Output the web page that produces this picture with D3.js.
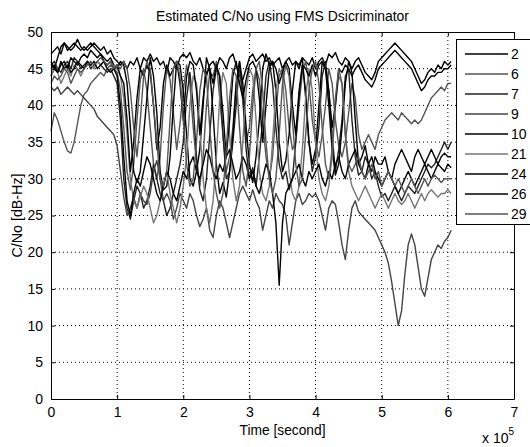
<!DOCTYPE html>
<html>
<head>
<meta charset="utf-8">
<script src="https://cdn.jsdelivr.net/npm/d3@7"></script>
<style>
  body { margin: 0; background: #fff; }
  svg { display: block; }
  text { font-family: "Liberation Sans", Arial, sans-serif; fill: #000; }
</style>
</head>
<body>
<svg id="chart" width="530" height="447"></svg>
<script>
// Estimated C/No per satellite (PRN), sampled every 0.05 x 10^5 s from 0 to 6.05 x 10^5 s
const prns = ["2", "6", "7", "9", "10", "21", "24", "26", "29"];
const sampleStep = 0.05;

const cn0_prn2 = [
  44,45,46.5,48,48.5,47.5,48,48.5,48,47.5,48,47.5,48,48.5,48,47.5,48,47,47.5,46.5,
  46,45.5,46,45,46,45.5,46.5,45,46.5,46,47,46,46.5,45.5,46,44.5,46.5,46,45,46.5,
  47,46.5,47.2,46,45.5,46.5,45,44,45.5,46,45,46.5,46,45,46.5,47,45.5,44,43.5,45,
  46.5,47,46,46.5,47,46,46.5,45.5,46,46.5,45,46,46.5,45.5,46,45,46.5,46,45.5,46.5,
  45,46,46.5,45.5,47,46.5,47.2,46,45.5,46.5,46,45,46,46.5,45.5,44.5,44,43.5,44.5,46,
  46.5,47,47.5,48,48.5,48,47.5,47,46.5,46,45,44,43,43.5,44.5,45,44.5,45.5,45,46,
  45.5,46
];
const cn0_prn6 = [
  36.5,39,38,36.5,35,33.8,33.5,35,37.5,40,41.5,42,43,43.5,44,44.5,44,45,45.5,45,
  44.5,42,37,31,28.5,32,38,43.5,45,42,37,32,30,33,40,45,43.5,39,34,37.5,
  42,45.5,43,37,32,29,33,40,44.5,44,46,41,36,31,33,37,43,45,41,35,
  37,42,45,43.5,38,33,30,33,39,44,45,42,37,34,35,40,44.5,46,43,38,
  35,33,36,40,45,43,38,34.5,33,35,39,43,41,36,34,35,36,35,34,36,
  37,38,38.5,39,38.5,38,39,38.5,38,37.5,38,37.5,38,39,40,41,41.5,42,42.5,42,
  43,43
];
const cn0_prn7 = [
  45.5,46,45,44.5,45.5,46,45,46.5,46,45,45.5,46,45,45.5,46,45.5,45,44.5,45,44,
  43,38,30,26,24.5,27,29,28,26,27,29,32,30,28,27,25,26,28,30,32,
  35,41,44.5,40,33,28.5,27,30,36,42,45,44,36,30,31,35,40,46,41,34,
  30,31.5,29,33,38,44,46,43,37,32,30,31,28.5,30,35,41,45.5,42,35,31,
  33,37,44,46,42,36,31,34,38,44,45,38,33,30.5,31,33,32,30,31,29,
  27.5,28,27,28,29,28,27,28,29,28.5,28,29,30,31,32,31.5,32,33,34,35,
  34,35
];
const cn0_prn9 = [
  42.5,42,42.5,41.5,42,42.5,42,41.5,42,41.5,41,40.5,40,39.5,38.5,38,37.5,37,36.5,36,
  34.5,31,27.5,25,26,27.5,26,28,27,26.5,28,31,32.5,30,27,28,27,24.5,26,28,
  27,26,28,27,25,23.5,24.5,26,23,22,25,27,26,24,22,24,26,28,29,28,
  27,28.5,27,26,23,25,27,26,28,27,26.5,25,21,24,27,28,26.5,27,28,27.5,
  28,27,25,23,26,27,26.5,24,21,19,23,26,27,25.5,25,24.5,24,23.5,23,22,
  21,20,18.5,16,13,10,12,17,21,22.5,21,18,15,14,16.5,19,20,21,20.5,21.5,
  22,23
];
const cn0_prn10 = [
  47,47.5,48,47,48.5,48,47.5,48,49,48,47.5,48,48.5,48,47.5,47,46.5,46,46.5,45.5,
  45,46,45.5,43,37,31,29.5,31,36,41,46.5,44,39,31,28.5,29,33,40,46,45.5,
  42,36,30,29,31,34,40,46.5,45,39,32,28,29.5,27.5,31,36,43,46,43,37,
  32,29.5,33,38,45,47,45.5,46,42,35,31,32.5,36,42,46,45.5,46.5,41,35,32,
  34,40,46,45,40,34,30.5,32,37,43,46,44.5,38,32,33,34.5,32,31,33,32,
  32,33,31,30,32,33,34,33,32,31,33,34,33,32,33,34,33,32,33,33.5,
  33,33
];
const cn0_prn21 = [
  44,45,44.5,43,44,45,44,45.5,45,44,45,46,45.5,45,46,45.5,46,45,44.5,45.5,
  45,44,41,36,30,27,26,27.5,29,28,26,24,25,27,29,31,28,26,24,26,
  29,33,40,44,43,37,30,26,24,27,33,41,44.5,43,36,30,27,29,35,42,
  45,44,38,31,28,27,29,35,42,45,44,37,31,28,27,29,34,41,45,42,
  35,30,28,27,29,33,40,44,43,36,31,29,28,27,28,29,28,27,26,27,
  28,27,26,27,28,27,26.5,27,28,27,26,27,28,27,28,28.5,28,27.5,28,28,
  28.5,28
];
const cn0_prn24 = [
  46,45,44.5,46,45,45.5,44.5,45,46,45.5,45,46,45.5,46,45,45.5,46,45,44.5,45,
  44,40,33,27,25,28,30,29,31,33,32,30,28,27,29,31,30,28,27,29,
  31,30,32,33,31,30,32,34,33,31,30,32,31,33,34,32,30,31,33,32,
  30,31,29,28,30,32,31,28,24,15.5,24,28,29,30,31,32,30,29,31,30,
  31,32,30,29,31,30,32,33,31,30,32,33,34,32,31,30,32,33,31,30,
  29,30,31,30,29,28,29,30,31,30,29,30,31,32,31,30,31,32,31.5,31,
  32,31.5
];
const cn0_prn26 = [
  45,45.5,44.5,45.5,46,45,46.5,46,45.5,46.5,47,46.5,47.5,47,46.5,47,46,45.5,46,45,
  45.5,44,43,38,31,35,41,45,44,45.5,44.5,40,34,37,43,45.5,44,45,46,43,
  38,44,46,45.5,42,36,41,44.5,45,43,45.5,44,39,33,38,44,46,43,41,43.5,
  45.5,46,45,41,35,40,45,46,45,43,44.5,46,45,40,36,42,45.5,45,44,45.5,
  44,45.5,46,45,42,37,40,45,44.5,45.5,45,44,45,45.5,44.5,43.5,43,42.5,43.5,45,
  45.5,46,46.5,47,47.5,47,46.5,46,45.5,45,44,43,42,42.5,43.5,44,44,44.5,44.5,45,
  45,45.5
];
const cn0_prn29 = [
  43,44,43.5,44,45,44.5,43,44,45,44.5,45,45.5,46,45.5,46,46.5,46,45.5,46,45,
  45.5,45,46,45,42,37,33,38,44,46,45,40,35,30,29,31,38,45,46,44,
  38,32,29,30,35,42,45,44,37,31,28,26,28,34,41,45,44,37,31,29,
  33,40,45,46,42,35,30,28,30,36,43,45.5,44,38,32,29,30,36,42,45,
  46,43,37,32,30,34,41,45,43,36,32,31,32,33,31,30,31,32,30,31,
  29,30,31,30,29,30,29,28,29,30,29,28,29,30,29,30,30.5,30,29.5,30,
  30,30
];

const seriesValues = [cn0_prn2, cn0_prn6, cn0_prn7, cn0_prn9, cn0_prn10,
                      cn0_prn21, cn0_prn24, cn0_prn26, cn0_prn29];
const lineColors = ["#000", "#555", "#222", "#444", "#000",
                    "#777", "#000", "#000", "#555"];

const xTicks = [0, 1, 2, 3, 4, 5, 6, 7];
const yTicks = [0, 5, 10, 15, 20, 25, 30, 35, 40, 45, 50];

const svg = d3.select("#chart");
const plotLeft = 51, plotRight = 514, plotTop = 32, plotBottom = 399;

const x = d3.scaleLinear().domain([0, 7]).range([plotLeft, plotRight]);
const y = d3.scaleLinear().domain([0, 50]).range([plotBottom, plotTop]);

// dotted grid
const grid = svg.append("g").attr("stroke", "#000").attr("stroke-width", 1)
  .attr("stroke-dasharray", "1,3");
xTicks.slice(1, -1).forEach(v => grid.append("line")
  .attr("x1", x(v)).attr("x2", x(v)).attr("y1", plotTop).attr("y2", plotBottom));
yTicks.slice(1, -1).forEach(v => grid.append("line")
  .attr("x1", plotLeft).attr("x2", plotRight).attr("y1", y(v)).attr("y2", y(v)));

// series
const line = d3.line()
  .x((d, i) => x(i * sampleStep))
  .y(d => y(d));
const plot = svg.append("g");
seriesValues.forEach((vals, k) => {
  plot.append("path")
    .datum(vals)
    .attr("d", line)
    .attr("fill", "none")
    .attr("stroke", lineColors[k])
    .attr("stroke-width", 1.4)
    .attr("stroke-linejoin", "round");
});

// axes with inward ticks
const tickLen = 4;
const axisBottom = d3.axisBottom(x).tickValues(xTicks).tickFormat(d3.format("d"))
  .tickSizeInner(-tickLen).tickSizeOuter(0).tickPadding(8);
const axisLeft = d3.axisLeft(y).tickValues(yTicks).tickFormat(d3.format("d"))
  .tickSizeInner(-tickLen).tickSizeOuter(0).tickPadding(8);
const axisTop = d3.axisTop(x).tickValues(xTicks).tickFormat("")
  .tickSizeInner(-tickLen).tickSizeOuter(0);
const axisRight = d3.axisRight(y).tickValues(yTicks).tickFormat("")
  .tickSizeInner(-tickLen).tickSizeOuter(0);

function styleAxis(g) {
  g.selectAll("path, line").attr("stroke", "#000");
  g.selectAll("text").attr("font-size", "14px")
    .attr("font-family", "'Liberation Sans', Arial, sans-serif").attr("fill", "#000");
}
svg.append("g").attr("transform", `translate(0,${plotBottom})`).call(axisBottom).call(styleAxis);
svg.append("g").attr("transform", `translate(${plotLeft},0)`).call(axisLeft).call(styleAxis);
svg.append("g").attr("transform", `translate(0,${plotTop})`).call(axisTop).call(styleAxis);
svg.append("g").attr("transform", `translate(${plotRight},0)`).call(axisRight).call(styleAxis);

// title and labels
svg.append("text").attr("x", (plotLeft + plotRight) / 2).attr("y", 21)
  .attr("text-anchor", "middle").attr("font-size", "14px")
  .attr("textLength", 253).attr("lengthAdjust", "spacingAndGlyphs")
  .text("Estimated C/No using FMS Dsicriminator");
svg.append("text").attr("x", (plotLeft + plotRight) / 2).attr("y", 435)
  .attr("text-anchor", "middle").attr("font-size", "14px")
  .attr("textLength", 86).attr("lengthAdjust", "spacingAndGlyphs")
  .text("Time [second]");
svg.append("text")
  .attr("transform", `translate(22,${(plotTop + plotBottom) / 2}) rotate(-90)`)
  .attr("text-anchor", "middle").attr("font-size", "14px")
  .attr("textLength", 84).attr("lengthAdjust", "spacingAndGlyphs")
  .text("C/No [dB-Hz]");
const expo = svg.append("text").attr("x", 482).attr("y", 443).attr("font-size", "14px");
expo.append("tspan").text("x 10");
expo.append("tspan").attr("dy", -8).attr("font-size", "10px").text("5");

// legend
const legend = svg.append("g");
legend.append("rect").attr("x", 456.5).attr("y", 39.5).attr("width", 90).attr("height", 185)
  .attr("fill", "#fff").attr("stroke", "#000").attr("stroke-width", 1);
prns.forEach((p, k) => {
  const ly = 54 + k * 20;
  legend.append("line").attr("x1", 465).attr("x2", 508).attr("y1", ly).attr("y2", ly)
    .attr("stroke", lineColors[k]).attr("stroke-width", 1.3);
  legend.append("text").attr("x", 511).attr("y", ly + 5).attr("font-size", "14px").text(p);
});
</script>
</body>
</html>
